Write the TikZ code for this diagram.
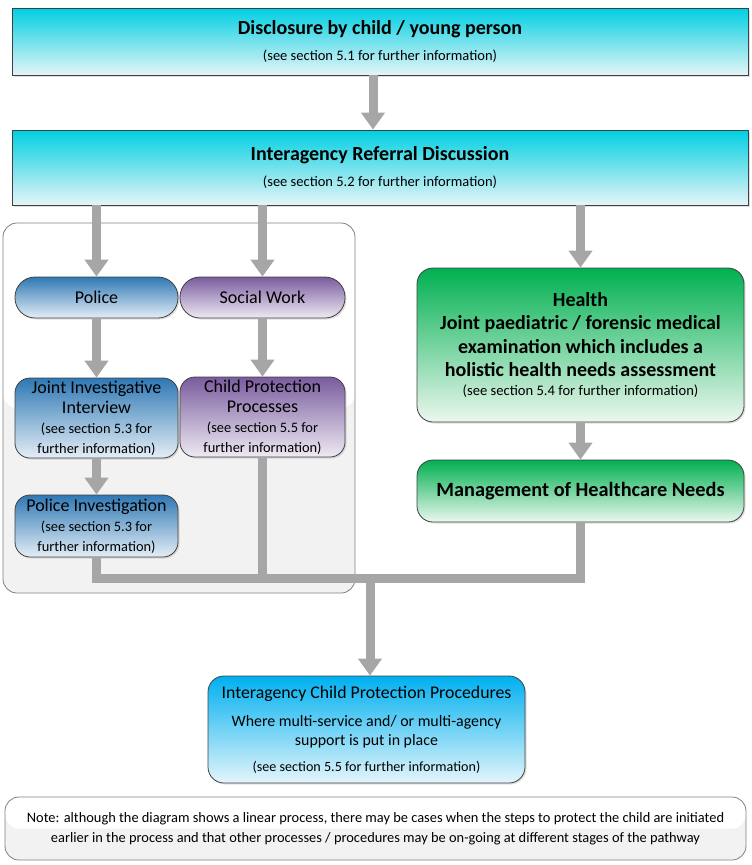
\documentclass[tikz,border=0pt]{standalone}
\usepackage{fontspec}
\setmainfont{Carlito}
\usetikzlibrary{positioning,arrows.meta,shadows}

\definecolor{arrowgray}{HTML}{A6A6A6}
\definecolor{boxedge}{HTML}{404040}
\definecolor{cyantop}{HTML}{00CFE2}
\definecolor{cyanbot}{HTML}{E6F5F7}
\definecolor{bluetop}{HTML}{2F78B4}
\definecolor{bluebot}{HTML}{E4EEF6}
\definecolor{purpletop}{HTML}{7A5C9E}
\definecolor{purplebot}{HTML}{EEEAF3}
\definecolor{greentop}{HTML}{00B050}
\definecolor{greenbot}{HTML}{ECF7EF}
\definecolor{skytop}{HTML}{00B0F0}
\definecolor{skybot}{HTML}{E4F5FB}
\definecolor{panelgray}{HTML}{F2F2F2}

\newcommand{\fsz}[2]{\fontsize{#1}{#2}\selectfont}

\tikzset{
  box/.style={draw=boxedge, line width=0.8pt, align=center, inner sep=0pt,
    drop shadow={opacity=0.25, shadow xshift=1.5pt, shadow yshift=-1.5pt}},
  cyanbox/.style={box, top color=cyantop, bottom color=cyanbot},
  bluebox/.style={box, rounded corners=15pt, top color=bluetop, bottom color=bluebot},
  purplebox/.style={box, rounded corners=15pt, top color=purpletop, bottom color=purplebot},
  greenbox/.style={box, rounded corners=16pt, top color=greentop, bottom color=greenbot},
  skybox/.style={box, rounded corners=16pt, top color=skytop, bottom color=skybot},
  panel/.style={draw=gray, line width=0.8pt, fill=panelgray, rounded corners=14pt, align=center,
    path picture={\fill[white] (path picture bounding box.north west) rectangle (path picture bounding box.east);}},
  flow/.style={draw=arrowgray, line width=9pt},
  flowarrow/.style={flow, -{Triangle[width=23pt,length=17pt]}},
}

\begin{document}
\begin{tikzpicture}[x=1pt, y=-1pt]
  \useasboundingbox (0,0) rectangle (752,865);

  % panel behind police and social work
  \node[panel, minimum width=352pt, minimum height=370pt] (agency) at (179,408) {};

  \node[cyanbox, minimum width=736pt, minimum height=67pt, font=\fsz{20}{26}] (disc) at (380,41.5)
    {\bfseries Disclosure by child / young person\\
     {\fsz{14.5}{26}(see section 5.1 for further information)}};
  \node[cyanbox, minimum width=736pt, minimum height=75pt, font=\fsz{20}{26}] (ird) at (380,167.5)
    {\bfseries Interagency Referral Discussion\\
     {\fsz{14.5}{26}(see section 5.2 for further information)}};

  \node[bluebox, rounded corners=20pt, minimum width=163pt, minimum height=41pt, font=\fsz{18}{20}] (police) at (96.5,297.5)
    {Police};
  \node[purplebox, rounded corners=20pt, minimum width=165pt, minimum height=41pt, font=\fsz{18}{20}] (sw) at (262.5,297.5)
    {Social Work};
  \node[bluebox, minimum width=163pt, minimum height=80pt, font=\fsz{18}{20}] (jii) at (96.5,418)
    {Joint Investigative\\Interview\\
     {\fsz{14.4}{20}(see section 5.3 for}\\{\fsz{14.4}{20}further information)}};
  \node[purplebox, minimum width=165pt, minimum height=80pt, font=\fsz{18}{20}] (cpp) at (262.5,417)
    {Child Protection\\Processes\\
     {\fsz{14.4}{20}(see section 5.5 for}\\{\fsz{14.4}{20}further information)}};
  \node[bluebox, minimum width=163pt, minimum height=62pt, font=\fsz{18}{20}] (pinv) at (96.5,526)
    {Police Investigation\\
     {\fsz{14.4}{20}(see section 5.3 for}\\{\fsz{14.4}{20}further information)}};

  \node[greenbox, minimum width=327pt, minimum height=154pt, font=\fsz{20}{23.5}] (health) at (580.5,345)
    {\bfseries Health\\\bfseries Joint paediatric / forensic medical\\
     \bfseries examination which includes a\\\bfseries holistic health needs assessment\\[-4.5pt]
     {\fsz{14.6}{20}(see section 5.4 for further information)}};
  \node[greenbox, minimum width=327pt, minimum height=62pt, font=\fsz{20.3}{24}] (mh) at (580.5,491)
    {\bfseries Management of Healthcare Needs};

  \node[skybox, minimum width=317pt, minimum height=107pt, font=\fsz{17.8}{19}] (icpp) at (366.5,729.5)
    {Interagency Child Protection Procedures\\[9pt]
     {\fsz{15.9}{19}Where multi-service and/ or multi-agency}\\{\fsz{15.9}{19}support is put in place}\\[7pt]
     {\fsz{14.1}{19}(see section 5.5 for further information)}};

  \node[panel, minimum width=741pt, minimum height=63pt, font=\fsz{14.4}{20}] (note) at (375.5,828.5)
    {Note: although the diagram shows a linear process, there may be cases when the steps to protect the child are initiated\\
     earlier in the process and that other processes / procedures may be on-going at different stages of the pathway};

  % connectors
  \coordinate (colmid) at (373,0);
  \coordinate (merge) at (370,578);
  \draw[flowarrow] (disc.south -| colmid) -- (ird.north -| colmid);
  \draw[flowarrow] (ird.south -| police) -- (police.north);
  \draw[flowarrow] (ird.south -| sw) -- (sw.north);
  \draw[flowarrow] (ird.south -| health) -- (health.north);
  \draw[flowarrow] (police.south) -- (jii.north);
  \draw[flowarrow] (sw.south) -- (cpp.north);
  \draw[flowarrow] (jii.south) -- (pinv.north);
  \draw[flowarrow] (health.south) -- (mh.north);
  \draw[flow] (pinv.south) |- (merge -| mh) -- (mh.south);
  \draw[flow] (cpp.south) -- (cpp.south |- merge);
  \draw[flowarrow] (merge) -- (icpp.north -| merge);
\end{tikzpicture}
\end{document}
